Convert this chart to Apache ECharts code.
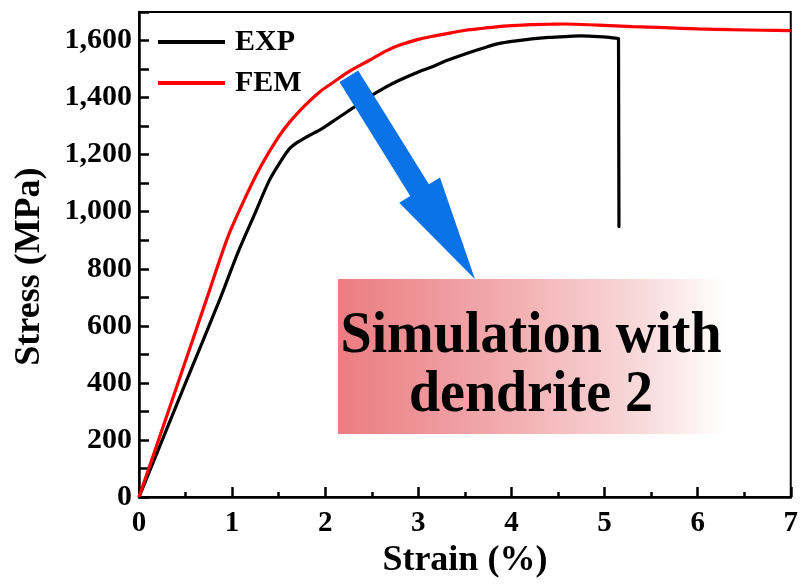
<!DOCTYPE html>
<html>
<head>
<meta charset="utf-8">
<script src="https://cdn.jsdelivr.net/npm/echarts@6/dist/echarts.min.js"></script>
<style>html,body{margin:0;padding:0;background:#fff}#c{width:801px;height:584px}</style>
</head>
<body>
<div id="c"></div>
<script>
var FONT = "'Liberation Serif','Times New Roman',serif";
var seriesNames = ['EXP', 'FEM'];
var expStrain = [0, 0.5, 0.867, 1.06, 1.24, 1.40, 1.53, 1.62, 1.70, 1.80, 1.97, 2.12, 2.29, 2.45, 2.65, 2.79, 3.0, 3.15, 3.29, 3.51, 3.7, 3.86, 4.05, 4.22, 4.4, 4.58, 4.75, 4.93, 5.05, 5.15];
var expStress = [0, 400, 692, 855, 990, 1110, 1181, 1222, 1243, 1262, 1292, 1325, 1362, 1398, 1437, 1460, 1490, 1508, 1528, 1554, 1574, 1589, 1599, 1606, 1611, 1614, 1616, 1614, 1611, 1607];
var expFractureStrain = [5.15, 5.155];
var expFractureStress = [1607, 948];
var femStrain = [0, 0.44, 0.724, 0.956, 1.135, 1.31, 1.49, 1.62, 1.78, 1.94, 2.08, 2.25, 2.47, 2.65, 2.8, 3.0, 3.15, 3.35, 3.51, 3.7, 3.86, 4.05, 4.22, 4.4, 4.58, 4.93, 5.3, 5.65, 6.0, 6.36, 6.7, 7.0];
var femStress = [0, 420, 692, 913, 1045, 1160, 1258, 1315, 1372, 1420, 1452, 1490, 1530, 1563, 1584, 1604, 1615, 1627, 1636, 1643, 1649, 1653, 1656, 1657, 1658, 1654, 1649, 1645, 1641, 1638, 1636, 1635];
var xTicks = [0, 1, 2, 3, 4, 5, 6, 7];
var yTickLabels = [0, 200, 400, 600, 800, 1000, 1200, 1400, 1600];
var noteLines = ['Simulation with', 'dendrite 2'];

function pairs(xs, ys) { return xs.map(function (x, i) { return [x, ys[i]]; }); }

var chart = echarts.init(document.getElementById('c'), null, {renderer: 'canvas'});

// arrow polygon (annotation) from start to tip in pixels
function arrowPoints(sx, sy, tx, ty, shaftHalf, headHalf, headLen) {
  var dx = tx - sx, dy = ty - sy, L = Math.sqrt(dx * dx + dy * dy);
  var ux = dx / L, uy = dy / L, px = uy, py = -ux;
  var bx = tx - ux * headLen, by = ty - uy * headLen;
  return [
    [sx + px * shaftHalf, sy + py * shaftHalf],
    [bx + px * shaftHalf, by + py * shaftHalf],
    [bx + px * headHalf, by + py * headHalf],
    [tx, ty],
    [bx - px * headHalf, by - py * headHalf],
    [bx - px * shaftHalf, by - py * shaftHalf],
    [sx - px * shaftHalf, sy - py * shaftHalf]
  ];
}

var option = {
  backgroundColor: '#fff',
  animation: false,
  grid: {left: 139, right: 8, top: 12, bottom: 86, show: true, borderColor: '#000', borderWidth: 2, backgroundColor: 'transparent'},
  legend: {
    data: seriesNames, orient: 'vertical', left: 158, top: 27, icon: 'rect', itemWidth: 67, itemHeight: 4, itemGap: 11, padding: 0,
    textStyle: {fontFamily: FONT, fontWeight: 'bold', fontSize: 30, color: '#000', lineHeight: 30, padding: [0, 0, 0, 5]}
  },
  xAxis: {
    type: 'value', min: 0, max: 7, interval: 1,
    axisLine: {show: true, onZero: false, lineStyle: {color: '#000', width: 2.5}},
    axisTick: {show: true, inside: true, length: 10, lineStyle: {color: '#000', width: 2.5}},
    minorTick: {show: true, splitNumber: 2, length: 5, lineStyle: {color: '#000', width: 2.5}},
    splitLine: {show: false},
    axisLabel: {margin: 12, fontFamily: FONT, fontWeight: 'bold', fontSize: 29, color: '#000',
      formatter: function (v) { return xTicks.indexOf(v) >= 0 ? String(v) : ''; }},
    name: 'Strain (%)', nameLocation: 'middle', nameGap: 45,
    nameTextStyle: {fontFamily: FONT, fontWeight: 'bold', fontSize: 36, color: '#000'}
  },
  yAxis: {
    type: 'value', min: 0, max: 1700, interval: 100,
    axisLine: {show: true, onZero: false, lineStyle: {color: '#000', width: 2.5}},
    axisTick: {show: true, inside: true, length: 10, lineStyle: {color: '#000', width: 2.5}},
    splitLine: {show: false},
    axisLabel: {margin: 7, fontFamily: FONT, fontWeight: 'bold', fontSize: 30, color: '#000',
      formatter: function (v) { return yTickLabels.indexOf(v) >= 0 ? v.toLocaleString('en-US') : ''; }},
    name: 'Stress (MPa)', nameLocation: 'middle', nameGap: 91,
    nameTextStyle: {fontFamily: FONT, fontWeight: 'bold', fontSize: 36, color: '#000', padding: [0, 24, 0, 0]}
  },
  series: [
    {name: seriesNames[0], type: 'line', data: pairs(expStrain, expStress), showSymbol: false, symbol: 'none', smooth: 0.3,
      lineStyle: {color: '#000', width: 3.2}, itemStyle: {color: '#000'}, z: 3},
    {name: seriesNames[0], type: 'line', data: pairs(expFractureStrain, expFractureStress), showSymbol: false, symbol: 'none',
      lineStyle: {color: '#000', width: 3.2, cap: 'round'}, itemStyle: {color: '#000'}, z: 3},
    {name: seriesNames[1], type: 'line', data: pairs(femStrain, femStress), showSymbol: false, symbol: 'none', smooth: 0.3,
      lineStyle: {color: '#ff0000', width: 3.2}, itemStyle: {color: '#ff0000'}, z: 4}
  ],
  graphic: [
    {type: 'rect', shape: {x: 338, y: 279, width: 387, height: 155}, z: 50,
      style: {fill: new echarts.graphic.LinearGradient(0, 0, 1, 0, [
        {offset: 0, color: '#eb7c81'}, {offset: 0.45, color: '#f2aeb1'}, {offset: 0.8, color: '#f9dcdd'}, {offset: 1, color: '#ffffff'}])}},
    {type: 'text', x: 531, y: 366, scaleY: 1.07, z: 51,
      style: {text: noteLines.join('\n'), fill: '#000', font: 'bold 56px ' + FONT, align: 'center', verticalAlign: 'middle', lineHeight: 55}},
    {type: 'polygon', z: 52, shape: {points: arrowPoints(348.8, 76.3, 475, 279.3, 11, 24, 105)}, style: {fill: '#0b72e7'}}
  ]
};
chart.setOption(option);
</script>
</body>
</html>
